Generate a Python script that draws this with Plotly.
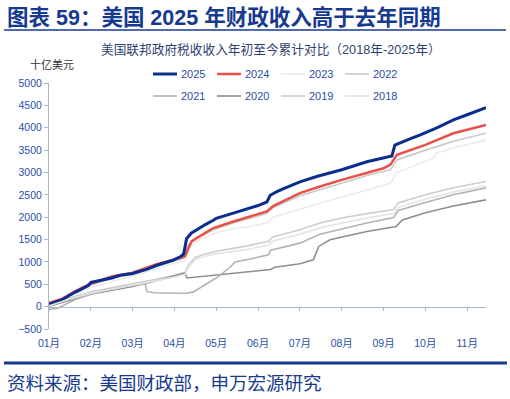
import plotly.graph_objects as go

# ---- data (x = position in months from Jan start, y = cumulative receipts, bn USD) ----
MONTH_TICKS = [0, 1, 2, 3, 4, 5, 6, 7, 8, 9, 10]
MONTH_LABELS = ["01月", "02月", "03月", "04月", "05月", "06月", "07月", "08月", "09月", "10月", "11月"]

X_2025 = [0.00, 0.30, 0.62, 0.94, 1.00, 1.20, 1.50, 1.70, 2.00, 2.35, 2.60, 2.97, 3.15, 3.22, 3.29, 3.40, 3.53,
          3.75, 3.93, 4.00, 4.41, 4.73, 5.00, 5.21, 5.29, 5.45, 5.61, 6.00, 6.40, 7.00, 7.60, 8.20, 8.27, 8.60,
          8.88, 9.30, 9.67, 10.00, 10.45]
Y_2025 = [50, 150, 320, 470, 540, 580, 640, 700, 740, 840, 930, 1040, 1120, 1180, 1520, 1640, 1720,
          1840, 1930, 1975, 2090, 2185, 2260, 2340, 2490, 2570, 2640, 2790, 2910, 3060, 3240, 3370, 3610, 3740,
          3840, 4010, 4175, 4290, 4450]

X_2024 = [0.00, 0.30, 0.62, 0.94, 1.50, 1.98, 2.54, 3.00, 3.25, 3.33, 3.41, 3.53, 3.93, 4.41, 4.81, 5.21, 5.37,
          6.00, 6.48, 7.00, 8.00, 8.16, 8.32, 8.88, 9.00, 9.67, 10.00, 10.45]
Y_2024 = [82, 171, 342, 491, 677, 751, 937, 1060, 1120, 1300, 1458, 1533, 1757, 1904, 2015, 2127, 2254,
          2538, 2686, 2835, 3095, 3170, 3393, 3578, 3616, 3877, 3950, 4062]

X_2023 = [0.00, 0.50, 1.00, 1.50, 2.00, 2.50, 3.00, 3.25, 3.35, 3.45, 3.60, 4.00, 4.40, 4.81, 5.25, 5.35,
          6.00, 6.48, 7.00, 7.60, 8.16, 8.22, 8.30, 8.60, 9.19, 9.25, 9.70, 10.45]
Y_2023 = [60, 250, 430, 560, 680, 830, 960, 1030, 1300, 1400, 1500, 1650, 1740, 1790, 1880, 2000,
          2180, 2314, 2450, 2600, 2760, 2835, 3000, 3100, 3320, 3430, 3560, 3727]

X_2022 = [0.00, 0.30, 0.62, 0.94, 1.50, 2.00, 2.50, 2.97, 3.22, 3.30, 3.41, 3.53, 3.93, 4.40, 4.81, 5.21, 5.35,
          6.00, 6.48, 7.00, 7.60, 8.16, 8.32, 8.88, 9.67, 10.45]
Y_2022 = [70, 160, 320, 460, 640, 720, 880, 1010, 1080, 1350, 1450, 1520, 1720, 1870, 1980, 2080, 2210,
          2480, 2611, 2760, 2930, 3058, 3281, 3460, 3700, 3877]

X_2021 = [0.00, 0.20, 0.35, 0.60, 0.94, 1.30, 1.80, 2.30, 2.34, 2.50, 3.00, 3.30, 3.45, 3.70, 4.00, 4.33, 4.45,
          4.81, 5.25, 5.30, 6.00, 6.48, 7.00, 7.60, 8.24, 8.35, 9.00, 9.67, 10.45]
Y_2021 = [-60, -40, 30, 150, 260, 360, 450, 510, 340, 310, 300, 300, 330, 480, 640, 880, 1000,
          1064, 1160, 1260, 1420, 1620, 1740, 1870, 1990, 2150, 2330, 2500, 2655]

X_2020 = [0.00, 0.50, 1.00, 1.50, 2.00, 2.50, 3.00, 3.25, 3.30, 3.50, 4.00, 4.50, 4.81, 5.30, 5.40, 6.00,
          6.32, 6.45, 6.72, 7.60, 8.30, 8.45, 9.00, 9.67, 10.45]
Y_2020 = [10, 150, 280, 370, 450, 560, 680, 752, 640, 660, 700, 750, 788, 830, 880, 960,
          1049, 1346, 1495, 1680, 1790, 1940, 2100, 2250, 2388]

X_2019 = [0.00, 0.50, 1.00, 1.50, 2.00, 2.50, 3.00, 3.25, 3.35, 3.50, 3.75, 4.00, 4.81, 5.25, 5.35,
          6.00, 6.48, 7.00, 7.60, 8.24, 8.35, 9.00, 9.67, 10.45]
Y_2019 = [30, 200, 330, 420, 500, 600, 700, 760, 950, 1100, 1180, 1240, 1370, 1460, 1560,
          1720, 1870, 1980, 2080, 2170, 2320, 2500, 2660, 2797]

X_2018 = [0.00, 0.50, 1.00, 1.50, 2.00, 2.50, 3.00, 3.25, 3.35, 3.50, 3.75, 4.00, 4.81, 5.25, 5.35,
          6.00, 6.48, 7.00, 7.60, 8.24, 8.35, 9.00, 9.67, 10.45]
Y_2018 = [20, 170, 300, 390, 470, 560, 660, 720, 900, 1050, 1130, 1180, 1290, 1380, 1470,
          1620, 1760, 1870, 1980, 2080, 2220, 2400, 2560, 2700]

SERIES_NAMES = ["2025", "2024", "2023", "2022", "2021", "2020", "2019", "2018"]
SERIES_X = [X_2025, X_2024, X_2023, X_2022, X_2021, X_2020, X_2019, X_2018]
SERIES_Y = [Y_2025, Y_2024, Y_2023, Y_2022, Y_2021, Y_2020, Y_2019, Y_2018]

# ---- styles ----
COLORS = ["#0B2D8E", "#E8504A", "#EBEBEB", "#C9C9C9", "#B3B3B3", "#8E8E8E", "#CDCDCD", "#E4E4E4"]
WIDTHS = [3.0, 2.5, 1.6, 1.6, 1.6, 1.6, 1.6, 1.6]

FONT = "Liberation Sans, Arial, Noto Sans CJK SC, sans-serif"
NAVY = "#163A8F"
TICK_BLUE = "#2B4EA8"
AXIS_COL = "#A3BACB"

W, H = 510, 399
L, R, T, B = 49, 24, 83, 70
PW, PH = W - L - R, H - T - B


def px(xp):
    return (xp - L) / PW


def py(yp):
    return (H - B - yp) / PH


fig = go.Figure()
for i in reversed(range(len(SERIES_NAMES))):
    fig.add_trace(go.Scatter(
        x=SERIES_X[i], y=SERIES_Y[i], name=SERIES_NAMES[i], mode="lines",
        line=dict(color=COLORS[i], width=WIDTHS[i]),
        showlegend=False, hoverinfo="skip",
        xaxis="x2" if i == len(SERIES_NAMES) - 1 else "x",
    ))

annotations = [
    dict(text="<b>图表 59：美国 2025 年财政收入高于去年同期</b>", xref="paper", yref="paper",
         x=px(5), y=py(17), xanchor="left", yanchor="middle", showarrow=False,
         font=dict(family=FONT, size=21.5, color=NAVY)),
    dict(text="美国联邦政府税收收入年初至今累计对比（2018年-2025年）", xref="paper", yref="paper",
         x=px(271), y=py(49), xanchor="center", yanchor="middle", showarrow=False,
         font=dict(family=FONT, size=12.7, color="#2F3F72")),
    dict(text="十亿美元", xref="paper", yref="paper",
         x=px(28), y=py(64), xanchor="left", yanchor="middle", showarrow=False,
         font=dict(family=FONT, size=11, color="#333333")),
    dict(text="资料来源：美国财政部，申万宏源研究", xref="paper", yref="paper",
         x=px(5), y=py(383), xanchor="left", yanchor="middle", showarrow=False,
         font=dict(family=FONT, size=18.5, color=NAVY)),
]
shapes = [
    dict(type="line", xref="paper", yref="paper", x0=px(4), x1=px(506), y0=py(30), y1=py(30),
         line=dict(color=NAVY, width=1.6)),
    dict(type="line", xref="paper", yref="paper", x0=px(4), x1=px(507), y0=py(363), y1=py(363),
         line=dict(color=NAVY, width=2.8)),
]

# ---- legend (4 columns x 2 rows), built from the series names/colours ----
LEG_X0, LEG_PITCH, LEG_ROWS_Y, LEG_SAMPLE = 153, 64, [74, 96], 24
for i, name in enumerate(SERIES_NAMES):
    col, row = i % 4, i // 4
    x0 = LEG_X0 + col * LEG_PITCH
    yy = LEG_ROWS_Y[row]
    shapes.append(dict(type="line", xref="paper", yref="paper",
                       x0=px(x0), x1=px(x0 + LEG_SAMPLE), y0=py(yy), y1=py(yy),
                       line=dict(color=COLORS[i], width=WIDTHS[i])))
    annotations.append(dict(text=name, xref="paper", yref="paper",
                            x=px(x0 + LEG_SAMPLE + 2), y=py(yy), xanchor="left", yanchor="middle",
                            showarrow=False, font=dict(family=FONT, size=11, color=TICK_BLUE)))

fig.update_layout(
    width=W, height=H,
    margin=dict(l=L, r=R, t=T, b=B, autoexpand=False),
    paper_bgcolor="white", plot_bgcolor="white",
    font=dict(family=FONT),
    showlegend=False,
    xaxis=dict(
        range=[0, 10.45], tickvals=MONTH_TICKS, ticktext=MONTH_LABELS,
        showline=False, showgrid=False, zeroline=False,
        ticks="outside", ticklen=4, tickcolor="rgba(0,0,0,0)",
        tickfont=dict(family=FONT, size=10.5, color=TICK_BLUE),
    ),
    xaxis2=dict(
        matches="x", overlaying="x", anchor="free", position=500 / 5500, side="bottom",
        tickvals=MONTH_TICKS, showticklabels=False,
        showline=True, linecolor=AXIS_COL, linewidth=1,
        ticks="outside", ticklen=3, tickcolor=AXIS_COL,
        showgrid=False, zeroline=False,
    ),
    yaxis=dict(
        range=[-500, 5000], dtick=500, tick0=0,
        showline=True, linecolor=AXIS_COL, linewidth=1,
        ticks="outside", ticklen=4, tickcolor=AXIS_COL,
        showgrid=False, zeroline=False,
        tickfont=dict(family=FONT, size=10.5, color=TICK_BLUE),
    ),
    annotations=annotations,
    shapes=shapes,
)

fig.write_html(
    "out.html",
    config={"displayModeBar": False},
    post_script="document.body.style.margin='0';document.body.style.overflow='hidden';",
)
